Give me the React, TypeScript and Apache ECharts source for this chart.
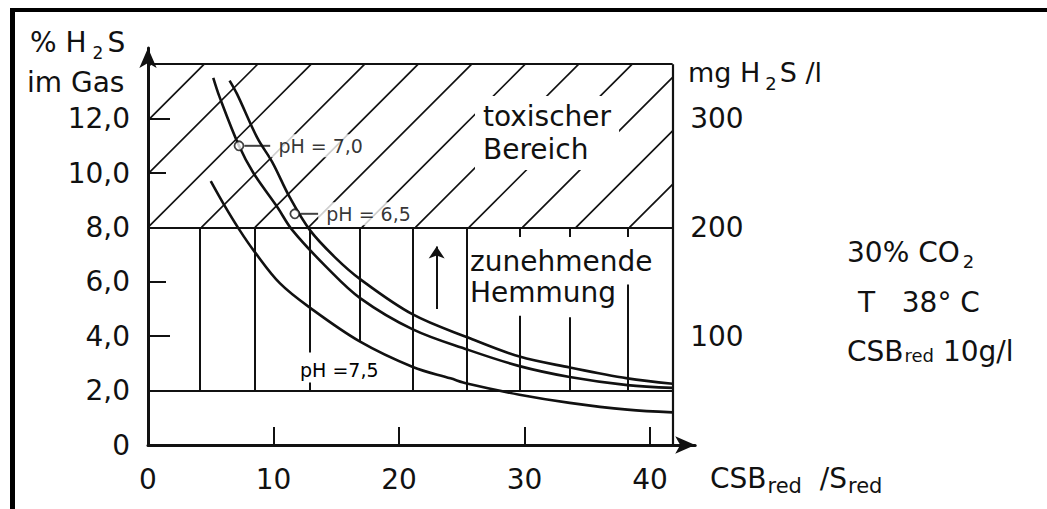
import React, { useEffect, useRef } from 'react';
import * as echarts from 'echarts';

// ---- data ----
const xTickLabels = ['0', '10', '20', '30', '40'];
const yTickLabels = ['0', '2,0', '4,0', '6,0', '8,0', '10,0', '12,0'];
const rightTickLabels = ['100', '200', '300'];

// pH 6.5 (upper curve)
const curvePH65: [number, number][] = [
  [6.5, 13.4], [7.1, 12.9], [8.7, 11.3], [9.9, 10.4], [11.3, 9.1], [12.9, 7.9],
  [14.9, 6.9], [16.9, 6.1], [21.1, 4.8], [25.5, 3.95], [29.6, 3.25], [33.6, 2.85],
  [38.2, 2.45], [41.8, 2.25],
];
// pH 7.0 (middle curve)
const curvePH70: [number, number][] = [
  [5.2, 13.5], [5.7, 12.8], [7.25, 11.0], [8.4, 10.0], [10.3, 8.75], [11.5, 7.9],
  [14.2, 6.55], [16.9, 5.4], [21.1, 4.25], [25.5, 3.5], [29.6, 2.9], [33.6, 2.5],
  [38.2, 2.2], [41.8, 2.1],
];
// pH 7.5 (lower curve)
const curvePH75: [number, number][] = [
  [5.0, 9.7], [6.1, 8.8], [7.3, 7.9], [8.5, 7.1], [10.5, 5.95], [12.9, 5.05],
  [16.9, 3.8], [21.1, 2.87], [24.1, 2.45], [25.5, 2.25], [29.6, 1.85], [33.6, 1.55],
  [38.2, 1.3], [41.8, 1.2],
];

const pointLabels = ['pH = 7,0', 'pH = 6,5'];
const pointValues: [number, number][] = [[7.25, 11.0], [11.7, 8.5]];

const toxicZone = [0, 8, 41.8, 14]; // x0, y0, x1, y1
const levelLines = [2, 8, 14];
const boxRight = 41.8;
// vertical "inhibition" bars: [x, yBottom, yTop]
const inhibitionBars: [number, number, number][] = [
  [4.1, 2, 8], [8.5, 2, 8], [12.9, 3.4, 8], [12.9, 2, 2.3], [16.9, 3.8, 8],
  [21.1, 2, 8], [25.4, 2, 8], [29.6, 2, 4.75], [33.6, 2, 4.7], [38.2, 2, 5.9],
  [29.6, 7.65, 8], [33.6, 7.65, 8], [38.2, 7.65, 8],
];
const inhibitionArrow: [number, number][] = [[23.0, 5.0], [23.0, 7.3]];

const X_MAX = 43.6;
const Y_MAX = 14.6;
const RIGHT_FACTOR = 25; // mg H2S/l per % H2S

// ---- styles ----
const INK = '#111';
const FONT = '"DejaVu Sans", sans-serif';
const HATCH_GAP = 53.5;

const boxSegments = [
  ...levelLines.map((y) => [[0, y], [boxRight, y]]),
  [[boxRight, 0], [boxRight, toxicZone[3]]],
];

// rich styles for "main text + subscript"
function subRich(mainSize: number, subSize: number, drop: number, padL: number, padR: number) {
  return {
    a: { fontSize: mainSize, fontFamily: FONT, fill: INK, verticalAlign: 'top' },
    s: {
      fontSize: subSize,
      fontFamily: FONT,
      fill: INK,
      verticalAlign: 'top',
      padding: [drop + (mainSize - subSize) / 2, padR, 0, padL],
    },
  };
}

export default function App() {
  const ref = useRef<HTMLDivElement>(null);

  useEffect(() => {
    const chart = echarts.init(ref.current!, null, { renderer: 'svg' });

    const option: any = {
      animation: false,
      backgroundColor: '#fff',
      grid: { left: 148, right: 351.8, top: 47.9, bottom: 64 },
      xAxis: {
        type: 'value',
        min: 0,
        max: X_MAX,
        interval: 10,
        axisLine: {
          show: true,
          onZero: false,
          symbol: ['none', 'arrow'],
          symbolSize: [13, 20],
          lineStyle: { color: INK, width: 3 },
        },
        axisTick: { show: true, inside: true, length: 18, lineStyle: { color: INK, width: 2 } },
        axisLabel: {
          margin: 20,
          fontSize: 28,
          fontFamily: FONT,
          color: INK,
          showMaxLabel: false,
          formatter: (v: number) => xTickLabels[Math.round(v / 10)] ?? '',
        },
        splitLine: { show: false },
      },
      yAxis: [
        {
          type: 'value',
          min: 0,
          max: Y_MAX,
          interval: 2,
          axisLine: {
            show: true,
            onZero: false,
            symbol: ['none', 'arrow'],
            symbolSize: [13, 20],
            lineStyle: { color: INK, width: 3 },
          },
          axisTick: { show: true, inside: true, length: 18, lineStyle: { color: INK, width: 2 } },
          axisLabel: {
            margin: 18,
            fontSize: 28,
            fontFamily: FONT,
            color: INK,
            showMaxLabel: false,
            formatter: (v: number) => yTickLabels[Math.round(v / 2)] ?? '',
          },
          splitLine: { show: false },
        },
        {
          type: 'value',
          position: 'right',
          offset: -22,
          min: 0,
          max: Y_MAX * RIGHT_FACTOR,
          interval: 100,
          axisLine: { show: false },
          axisTick: { show: true, inside: true, length: 14, lineStyle: { color: INK, width: 2 } },
          axisLabel: {
            margin: 17,
            fontSize: 28,
            fontFamily: FONT,
            color: INK,
            showMaxLabel: false,
            formatter: (v: number) => (v === 0 ? '' : rightTickLabels[Math.round(v / 100) - 1] ?? ''),
          },
          splitLine: { show: false },
        },
      ],
      series: [
        {
          type: 'custom',
          name: 'toxisch',
          coordinateSystem: 'cartesian2d',
          silent: true,
          z: 1,
          encode: { x: [0, 2], y: [1, 3] },
          data: [toxicZone],
          renderItem: (params: any, api: any) => {
            const p0 = api.coord([api.value(0), api.value(3)]);
            const p1 = api.coord([api.value(2), api.value(1)]);
            const xL = p0[0], yT = p0[1], xR = p1[0], yB = p1[1];
            const children: any[] = [];
            let c = xL + yB;
            while (c - HATCH_GAP > xL + yT) c -= HATCH_GAP;
            for (; c < xR + yB; c += HATCH_GAP) {
              const xa = Math.max(xL, c - yB);
              const xb = Math.min(xR, c - yT);
              if (xb <= xa) continue;
              children.push({
                type: 'line',
                shape: { x1: xa, y1: c - xa, x2: xb, y2: c - xb },
                style: { stroke: INK, lineWidth: 1.7 },
              });
            }
            return { type: 'group', children };
          },
        },
        {
          type: 'lines',
          name: 'box',
          coordinateSystem: 'cartesian2d',
          silent: true,
          z: 2,
          lineStyle: { color: INK, width: 2.2, opacity: 1 },
          data: boxSegments.map((s) => ({ coords: s })),
        },
        {
          type: 'lines',
          name: 'bars',
          coordinateSystem: 'cartesian2d',
          silent: true,
          z: 2,
          lineStyle: { color: INK, width: 2, opacity: 1 },
          data: inhibitionBars.map(([x, y0, y1]) => ({ coords: [[x, y0], [x, y1]] })),
        },
        {
          type: 'lines',
          name: 'arrow',
          coordinateSystem: 'cartesian2d',
          silent: true,
          z: 2,
          symbol: ['none', 'arrow'],
          symbolSize: 12,
          lineStyle: { color: INK, width: 2, opacity: 1 },
          data: [{ coords: inhibitionArrow }],
        },
        ...[curvePH65, curvePH70, curvePH75].map((d, i) => ({
          type: 'line',
          name: ['pH 6,5', 'pH 7,0', 'pH 7,5'][i],
          data: d,
          smooth: 0.35,
          showSymbol: false,
          symbol: 'none',
          z: 4,
          lineStyle: { color: INK, width: 2.6 },
        })),
        {
          type: 'scatter',
          name: 'marks',
          z: 6,
          symbol: 'circle',
          symbolSize: 9,
          itemStyle: { color: '#fff', borderColor: INK, borderWidth: 1.8 },
          data: pointValues.map((v, i) => ({
            value: v,
            label: {
              show: true,
              position: 'right',
              distance: 0,
              formatter: `{${i === 0 ? 'l1' : 'l2'}|}{t|${pointLabels[i]}}`,
              rich: {
                l1: { width: 26, height: 2, backgroundColor: INK, verticalAlign: 'middle' },
                l2: { width: 18, height: 2, backgroundColor: INK, verticalAlign: 'middle' },
                t: {
                  fontSize: 19,
                  fontFamily: FONT,
                  color: '#000',
                  backgroundColor: '#fff',
                  padding: [2, 4, 2, 8],
                  verticalAlign: 'middle',
                },
              },
            },
          })),
        },
      ],
      graphic: [
        { type: 'rect', z: 100, shape: { x: 10, y: 8, width: 1037, height: 4 }, style: { fill: '#000' } },
        { type: 'rect', z: 100, shape: { x: 10, y: 8, width: 5, height: 501 }, style: { fill: '#000' } },
        {
          type: 'text', z: 100, x: 30, y: 28.5,
          style: { text: '{a|% H}{s|2}{a|S}', rich: subRich(28, 17, 10, 6, 4), verticalAlign: 'top' },
        },
        {
          type: 'text', z: 100, x: 27, y: 82,
          style: { text: 'im Gas', fontSize: 28, fontFamily: FONT, fill: INK, verticalAlign: 'middle' },
        },
        {
          type: 'text', z: 100, x: 688, y: 59,
          style: { text: '{a|mg H}{s|2}{a|S /l}', rich: subRich(27, 18, 11, 5, 3), verticalAlign: 'top' },
        },
        {
          type: 'text', z: 100, x: 475, y: 96,
          style: {
            text: 'toxischer\nBereich',
            fontSize: 28,
            fontFamily: FONT,
            fill: INK,
            lineHeight: 33,
            backgroundColor: '#fff',
            padding: [4, 8, 4, 8],
            verticalAlign: 'top',
          },
        },
        {
          type: 'text', z: 100, x: 470, y: 246,
          style: {
            text: 'zunehmende\nHemmung',
            fontSize: 28,
            fontFamily: FONT,
            fill: INK,
            lineHeight: 31,
            verticalAlign: 'top',
          },
        },
        {
          type: 'text', z: 100, x: 300, y: 370,
          style: { text: 'pH =7,5', fontSize: 19, fontFamily: FONT, fill: '#000', verticalAlign: 'middle' },
        },
        {
          type: 'text', z: 100, x: 847, y: 238,
          style: { text: '{a|30% CO}{s|2}', rich: subRich(28, 18, 9, 3, 0), verticalAlign: 'top' },
        },
        {
          type: 'text', z: 100, x: 858, y: 302,
          style: { text: 'T   38° C', fontSize: 28, fontFamily: FONT, fill: INK, verticalAlign: 'middle' },
        },
        {
          type: 'text', z: 100, x: 847, y: 337,
          style: { text: '{a|CSB}{s|red}{a| 10g/l}', rich: subRich(28, 18, 4, 1, 0), verticalAlign: 'top' },
        },
        {
          type: 'text', z: 100, x: 710, y: 464,
          style: { text: '{a|CSB}{s|red}{a|  /S}{s|red}', rich: subRich(28, 21, 8, 1, 0), verticalAlign: 'top' },
        },
      ],
    };

    chart.setOption(option);
    return () => chart.dispose();
  }, []);

  return (
    <div
      ref={ref}
      style={{ position: 'fixed', left: 0, top: 0, width: 1047, height: 509, background: '#fff' }}
    />
  );
}
